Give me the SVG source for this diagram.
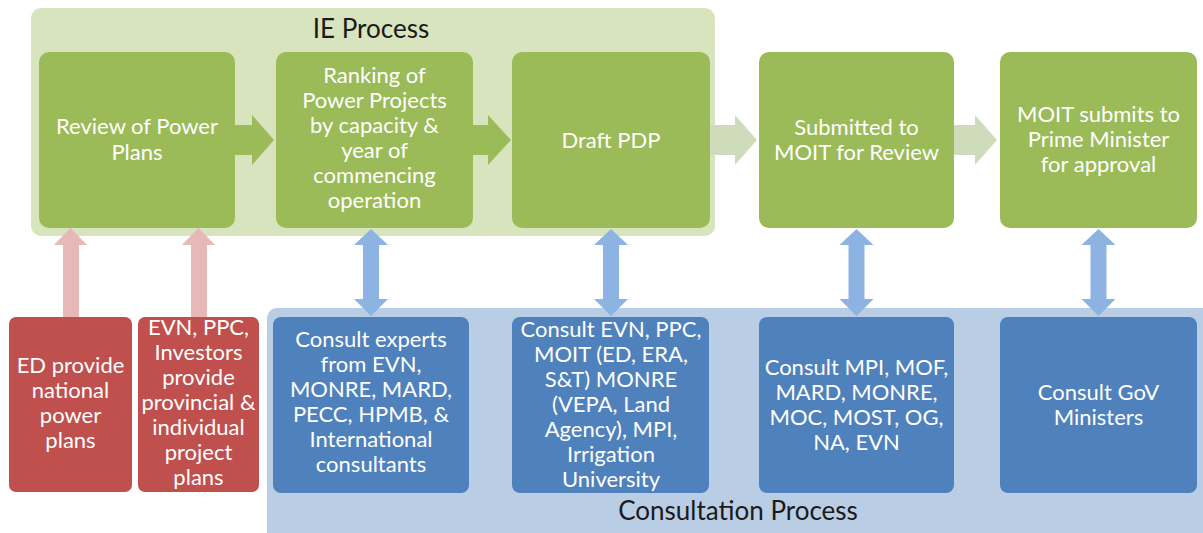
<svg xmlns="http://www.w3.org/2000/svg" width="1203" height="533" viewBox="0 0 1203 533">
<style>
.txt{font-family:Lato,"Liberation Sans",sans-serif;font-size:22px;fill:#ffffff;text-anchor:middle}
.ttl{font-family:Lato,"Liberation Sans",sans-serif;font-size:26px;fill:#1a1a1a;text-anchor:middle}
.g{fill:#9bbb59}
.r{fill:#c0504d}
.b{fill:#4f81bd}
.ga{fill:#9bbb59}
.la{fill:#cfdcbb}
.pa{fill:#e6b9b8}
.ba{fill:#8db3e2}
</style>
<rect width="1203" height="533" fill="#ffffff"/>
<g id="ie-process">
<rect x="31" y="8" width="684" height="228" rx="10" fill="#d7e4bd"/>
<text class="ttl" x="371" y="38">IE Process</text>
</g>
<g id="consultation-process">
<rect x="267" y="308" width="946" height="235" rx="10" fill="#b9cde5"/>
<text class="ttl" x="738" y="520">Consultation Process</text>
</g>
<g id="connectors">
<path class="ga" d="M235 125H252V115L274 140L252 165V155H235Z"/>
<path class="ga" d="M473 125H488V115L511 140L488 165V155H473Z"/>
<path class="la" d="M710 125H735V115L757 140L735 165V155H710Z"/>
<path class="la" d="M954 125H975V115L997 140L975 165V155H954Z"/>
<path class="pa" d="M63 317V245H54L70.5 228L87 245H79V317Z"/>
<path class="pa" d="M191 317V245H182L198.5 228L215 245H207V317Z"/>
<path class="ba" d="M363 245H354L371 229L388 245H379V299H388L371 316L354 299H363Z"/>
<path class="ba" d="M603 245H594L611 229L628 245H619V299H628L611 316L594 299H603Z"/>
<path class="ba" d="M848.5 245H839.5L856.5 229L873.5 245H864.5V299H873.5L856.5 316L839.5 299H848.5Z"/>
<path class="ba" d="M1090.5 245H1081.5L1098.5 229L1115.5 245H1106.5V299H1115.5L1098.5 316L1081.5 299H1090.5Z"/>
</g>
<g id="review-power-plans">
<rect class="g" x="39" y="52" width="196" height="176" rx="10"/>
<text class="txt"><tspan x="137" y="134">Review of Power</tspan><tspan x="137" y="160">Plans</tspan></text>
</g>
<g id="ranking">
<rect class="g" x="276" y="52" width="197" height="176" rx="10"/>
<text class="txt"><tspan x="374.5" y="83">Ranking of</tspan><tspan x="374.5" y="108">Power Projects</tspan><tspan x="374.5" y="133">by capacity &amp;</tspan><tspan x="374.5" y="158">year of</tspan><tspan x="374.5" y="183">commencing</tspan><tspan x="374.5" y="208">operation</tspan></text>
</g>
<g id="draft-pdp">
<rect class="g" x="512" y="52" width="198" height="176" rx="10"/>
<text class="txt" x="611" y="148">Draft PDP</text>
</g>
<g id="submitted-moit">
<rect class="g" x="759" y="52" width="195" height="176" rx="10"/>
<text class="txt"><tspan x="856.5" y="135">Submitted to</tspan><tspan x="856.5" y="160">MOIT for Review</tspan></text>
</g>
<g id="moit-submits">
<rect class="g" x="1000" y="52" width="197" height="176" rx="10"/>
<text class="txt"><tspan x="1098.5" y="122">MOIT submits to</tspan><tspan x="1098.5" y="147">Prime Minister</tspan><tspan x="1098.5" y="172">for approval</tspan></text>
</g>
<g id="ed-provide">
<rect class="r" x="9" y="317" width="123" height="175" rx="7"/>
<text class="txt"><tspan x="70.5" y="373">ED provide</tspan><tspan x="70.5" y="398">national</tspan><tspan x="70.5" y="423">power</tspan><tspan x="70.5" y="448">plans</tspan></text>
</g>
<g id="evn-ppc-investors">
<rect class="r" x="138" y="317" width="121" height="175" rx="7"/>
<text class="txt"><tspan x="198.5" y="335">EVN, PPC,</tspan><tspan x="198.5" y="360">Investors</tspan><tspan x="198.5" y="385">provide</tspan><tspan x="198.5" y="410">provincial &amp;</tspan><tspan x="198.5" y="435">individual</tspan><tspan x="198.5" y="460">project</tspan><tspan x="198.5" y="485">plans</tspan></text>
</g>
<g id="consult-experts">
<rect class="b" x="273" y="317" width="196" height="176" rx="8"/>
<text class="txt"><tspan x="371" y="347">Consult experts</tspan><tspan x="371" y="372">from EVN,</tspan><tspan x="371" y="397">MONRE, MARD,</tspan><tspan x="371" y="422">PECC, HPMB, &amp;</tspan><tspan x="371" y="447">International</tspan><tspan x="371" y="472">consultants</tspan></text>
</g>
<g id="consult-evn">
<rect class="b" x="512" y="317" width="197" height="176" rx="8"/>
<text class="txt"><tspan x="611" y="337">Consult EVN, PPC,</tspan><tspan x="611" y="362">MOIT (ED, ERA,</tspan><tspan x="611" y="387">S&amp;T) MONRE</tspan><tspan x="611" y="412">(VEPA, Land</tspan><tspan x="611" y="437">Agency), MPI,</tspan><tspan x="611" y="462">Irrigation</tspan><tspan x="611" y="487">University</tspan></text>
</g>
<g id="consult-mpi">
<rect class="b" x="759" y="317" width="195" height="176" rx="8"/>
<text class="txt"><tspan x="856.5" y="375">Consult MPI, MOF,</tspan><tspan x="856.5" y="400">MARD, MONRE,</tspan><tspan x="856.5" y="425">MOC, MOST, OG,</tspan><tspan x="856.5" y="450">NA, EVN</tspan></text>
</g>
<g id="consult-gov">
<rect class="b" x="1000" y="317" width="197" height="176" rx="8"/>
<text class="txt"><tspan x="1098.5" y="400">Consult GoV</tspan><tspan x="1098.5" y="425">Ministers</tspan></text>
</g>
</svg>
